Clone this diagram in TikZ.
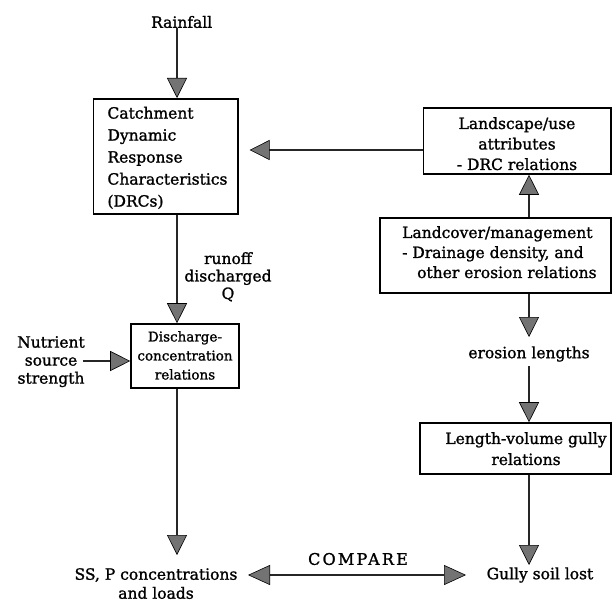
\documentclass[tikz,border=0pt]{standalone}
\usepackage{fontspec}
\setmainfont{DejaVu Serif}[BoldFont={DejaVu Serif},BoldFeatures={FakeBold=1.3}]
\usetikzlibrary{arrows.meta}
\begin{document}
\begin{tikzpicture}[x=1pt,y=-1pt,
  box/.style={draw=black,line width=1.6pt,inner sep=0pt},
  lbl/.style={font=\fontsize{15.5}{20}\selectfont\bfseries,align=center,inner sep=0pt},
  tipA/.style={},
  arr/.style={draw=black!85,line width=1.6pt,
    -{Triangle[width=20pt,length=20pt,fill=black!55,color=black,line width=0.6pt]}},
  darr/.style={draw=black!85,line width=1.6pt,
    {Triangle[width=20pt,length=22pt,fill=black!55,color=black,line width=0.6pt]}-{Triangle[width=20pt,length=22pt,fill=black!55,color=black,line width=0.6pt]}},
]
\useasboundingbox (0,0) rectangle (612,604);
\fill[white] (0,0) rectangle (612,604);

% reference coordinates
\coordinate (xL) at (177,0);
\coordinate (xR) at (529,0);
\coordinate (yA) at (0,150);
\coordinate (yN) at (0,361);

% texts and boxes
\node[lbl] (rain) at (181.7,22) {Rainfall};

\node[box, minimum width=144.5pt, minimum height=115pt, anchor=north west] (drc) at (92.5,98) {};
\node[lbl, align=left, anchor=north west, font=\fontsize{15.5}{22}\selectfont\bfseries] (drct) at (107.3,106.6)
  {Catchment\\Dynamic\\Response\\Characteristics\\(DRCs)};

\node[box, minimum width=187.5pt, minimum height=66pt] (land) at (517.25,141) {};
\node[lbl, anchor=north, font=\fontsize{15.5}{20.5}\selectfont\bfseries] (landt) at (517,117)
  {Landscape/use\\attributes\\- DRC relations};

\node[box, minimum width=231pt, minimum height=75pt] (cover) at (495.5,255.5) {};
\node[lbl, align=left, anchor=north west] (covert) at (402,226)
  {Landcover/management\\- Drainage density, and\\\hspace*{15pt}other erosion relations};

\node[lbl] (eros) at (529,354) {erosion lengths};

\node[box, minimum width=191pt, minimum height=51pt] (gully) at (515.5,448.5) {};
\node[lbl, anchor=north, font=\fontsize{15.5}{21}\selectfont\bfseries] (gullyt) at (526,432)
  {Length-volume gully\\relations};

\node[lbl] (lost) at (540,575) {Gully soil lost};

\node[box, minimum width=108pt, minimum height=64pt] (disc) at (185,356) {};
\node[lbl, anchor=north, font=\fontsize{13.5}{19}\selectfont\bfseries] (disct) at (185,331)
  {Discharge-\\concentration\\relations};

\node[lbl, anchor=north, font=\fontsize{15.5}{18}\selectfont\bfseries] (nutr) at (51,336)
  {Nutrient\\source\\strength};

\node[lbl, anchor=north, font=\fontsize{15.5}{17.5}\selectfont\bfseries] (runoff) at (228,252)
  {runoff\\discharged\\Q};

\node[lbl, anchor=north, font=\fontsize{15.5}{19}\selectfont\bfseries] (ss) at (156,568)
  {SS, P concentrations\\and loads};

\node[lbl, font=\fontsize{16}{20}\selectfont\bfseries\addfontfeature{LetterSpace=14}] (cmp) at (358,559) {COMPARE};

% free ends
\coordinate (nstart) at (83,361);
\coordinate (ssTop) at (177,555);
\coordinate (lostTop) at (529,565);
\coordinate (erosTop) at (529,337);
\coordinate (erosBot) at (529,366);
\coordinate (cL) at (248,575);
\coordinate (cR) at (466,575);

% connectors
\draw[arr] (rain.south -| xL) -- (drc.north -| xL);
\draw[arr, shorten >=11pt] (land.west |- yA) -- (drc.east |- yA);
\draw[arr] (cover.north -| xR) -- (land.south -| xR);
\draw[arr] (cover.south -| xR) -- (erosTop);
\draw[arr] (erosBot) -- (gully.north -| xR);
\draw[arr] (gully.south -| xR) -- (lostTop);
\draw[arr] (drc.south -| xL) -- (disc.north -| xL);
\draw[arr] (nstart) -- (disc.west |- yN);
\draw[arr] (disc.south -| xL) -- (ssTop);
\draw[darr] (cL) -- (cR);
\end{tikzpicture}
\end{document}
